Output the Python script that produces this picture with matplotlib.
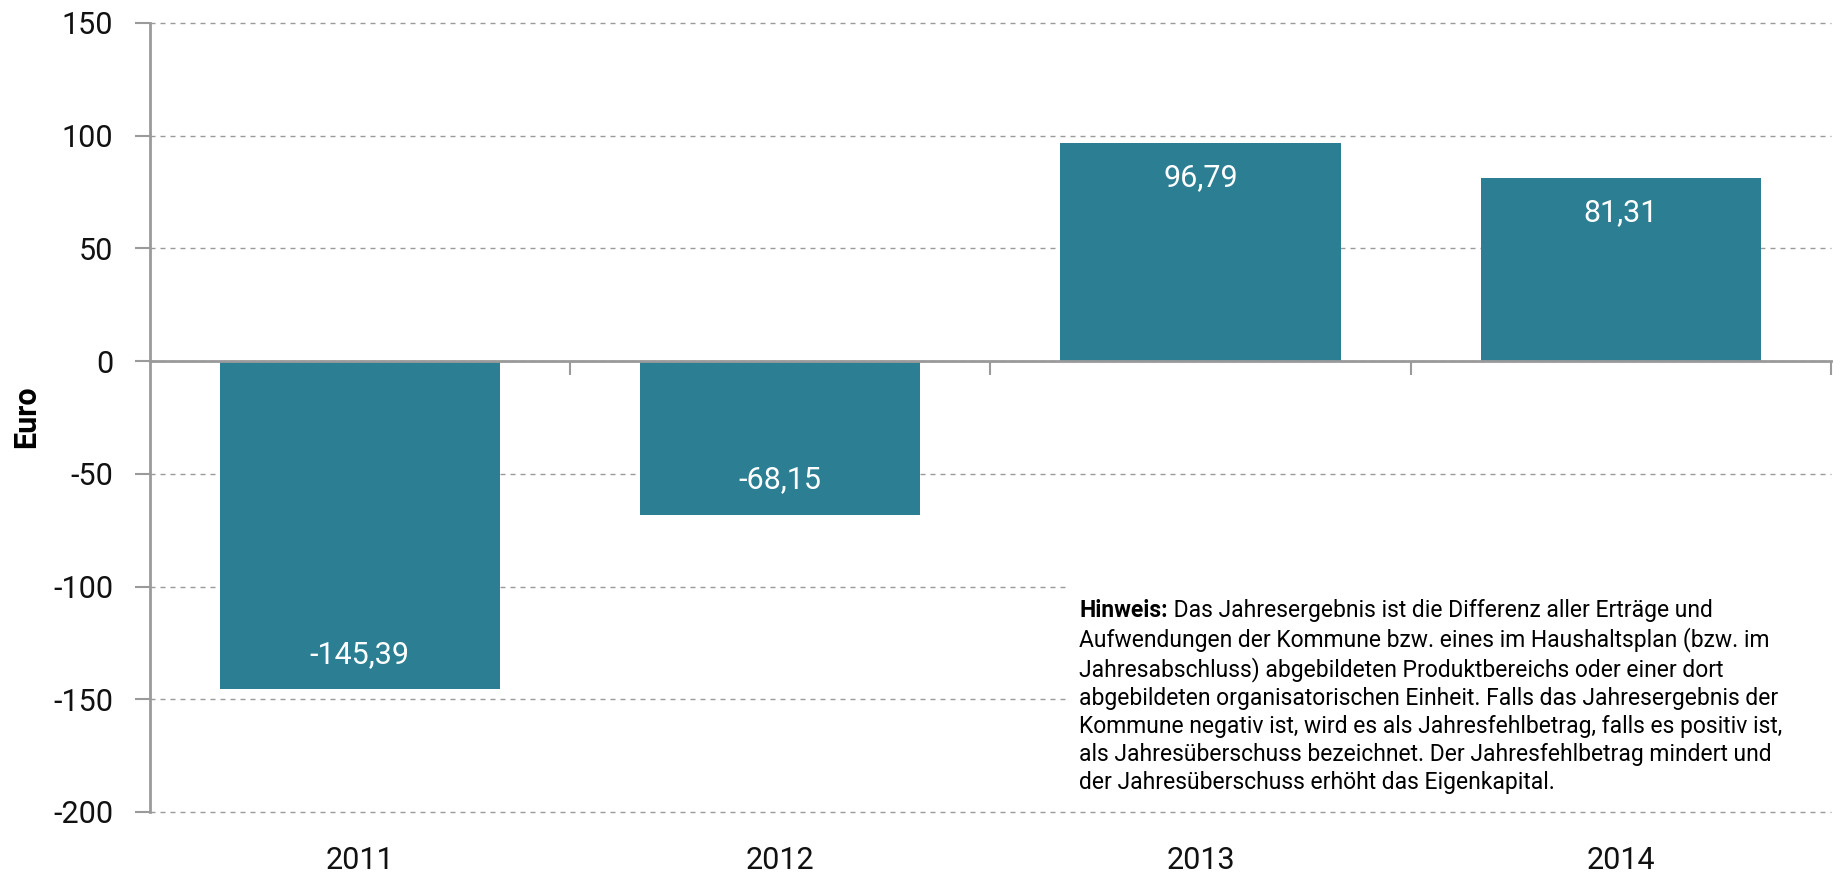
import matplotlib
matplotlib.use("Agg")
import matplotlib.pyplot as plt
from matplotlib.patches import Rectangle

# data
years = ["2011", "2012", "2013", "2014"]
values = [-145.39, -68.15, 96.79, 81.31]
value_labels = ["-145,39", "-68,15", "96,79", "81,31"]
yticks = [-200, -150, -100, -50, 0, 50, 100, 150]

note_bold = "Hinweis:"
note_first = " Das Jahresergebnis ist die Differenz aller Erträge und"
note_rest = [
    "Aufwendungen der Kommune bzw. eines im Haushaltsplan (bzw. im",
    "Jahresabschluss) abgebildeten Produktbereichs oder einer dort",
    "abgebildeten organisatorischen Einheit. Falls das Jahresergebnis der",
    "Kommune negativ ist, wird es als Jahresfehlbetrag, falls es positiv ist,",
    "als Jahresüberschuss bezeichnet. Der Jahresfehlbetrag mindert und",
    "der Jahresüberschuss erhöht das Eigenkapital.",
]

bar_color = "#2c7f93"
grey = "#9a9a9a"
plt.rcParams["font.family"] = ["Roboto", "DejaVu Sans"]
note_font = ["Liberation Sans Narrow", "Roboto", "DejaVu Sans"]

fig = plt.figure(figsize=(18.46, 8.73), dpi=100)
ax = fig.add_axes([0.081, 0.0699, 0.911, 0.9038])

x = list(range(len(years)))
ax.bar(x, values, width=0.667, color=bar_color, linewidth=0, zorder=3)

ax.set_xlim(-0.5, len(years) - 0.5)
ax.set_ylim(-200, 150)
ax.set_yticks(yticks)
ax.set_yticklabels([str(v) for v in yticks])
ax.tick_params(axis="y", length=11, width=1.5, color=grey, pad=15,
               labelsize=22, labelcolor="#111111")

# category boundary ticks on the zero line
ax.spines["bottom"].set_position(("data", 0))
ax.set_xticks([i + 0.5 for i in x])
ax.set_xticklabels([])
ax.tick_params(axis="x", length=10, width=1.5, color=grey, direction="out")
for i, yr in enumerate(years):
    ax.text(i, -0.061, yr, transform=ax.get_xaxis_transform(),
            ha="center", va="center", fontsize=22, color="#111111")

for s in ["top", "right"]:
    ax.spines[s].set_visible(False)
ax.spines["left"].set_color(grey)
ax.spines["left"].set_linewidth(2)
ax.spines["bottom"].set_color(grey)
ax.spines["bottom"].set_linewidth(2)
ax.spines["bottom"].set_zorder(4)

ax.set_axisbelow(True)
ax.yaxis.grid(True, linestyle=(0, (3.6, 3.6)), color=grey, linewidth=1)
for gl in ax.get_ygridlines():
    gl.set_clip_on(False)

# bar value labels
for i, (v, lab) in enumerate(zip(values, value_labels)):
    off = -25 if v > 0 else 25
    ax.annotate(lab, (i, v), xytext=(0, off), textcoords="offset points",
                ha="center", va="center", color="white", fontsize=22, zorder=5)

fig.text(26 / 1846, 0.523, "Euro", rotation=90, ha="center", va="center",
         fontsize=22, fontweight="bold")

# white panel behind the note
ax.add_patch(Rectangle((0.545, 0.015), 0.46, 0.283, transform=ax.transAxes,
                       facecolor="white", edgecolor="none", zorder=1,
                       clip_on=False))

t1 = ax.text(0.5527, 0.241, note_bold, transform=ax.transAxes, fontsize=16.5,
             fontweight="bold", family=note_font, va="bottom", ha="left",
             zorder=6)
ax.annotate(note_first, xy=(1, 0), xycoords=t1, va="bottom", ha="left",
            fontsize=16.5, family=note_font, zorder=6)
ax.annotate("\n".join(note_rest), xy=(0, 0), xycoords=t1, va="top", ha="left",
            fontsize=16.5, family=note_font, linespacing=1.27, zorder=6,
            xytext=(0, -4), textcoords="offset points")

fig.savefig("out.png", dpi=100)
